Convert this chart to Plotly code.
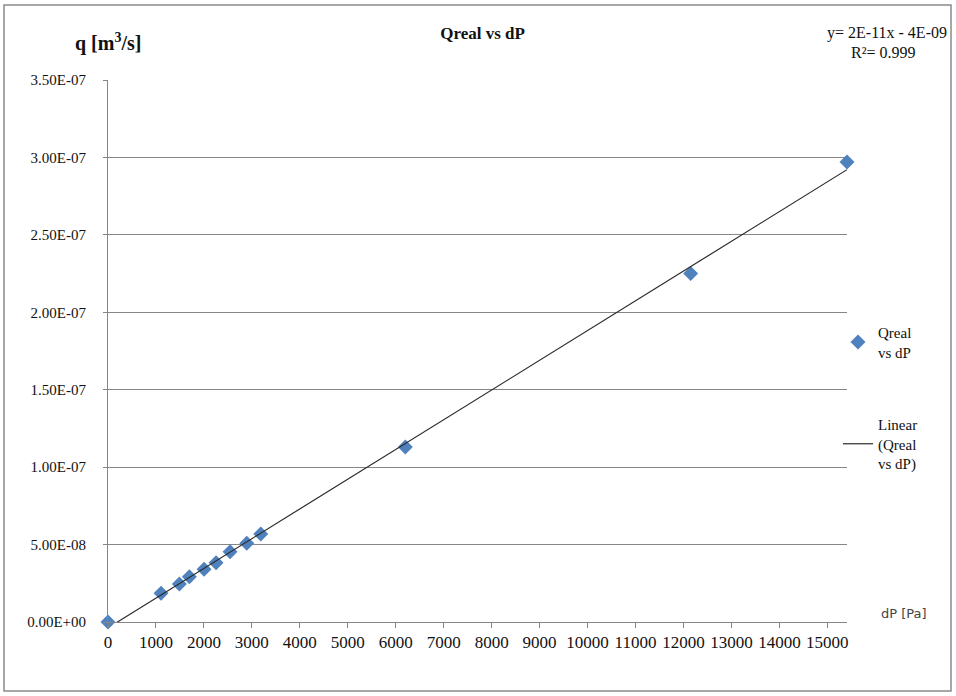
import numpy as np
import plotly.graph_objects as go

# Data
dp_pa = [0, 1106, 1488, 1697, 2003, 2253, 2545, 2894, 3186, 6200, 12150, 15410]
q_m3s = [0.0, 1.85e-08, 2.45e-08, 2.92e-08, 3.40e-08, 3.83e-08, 4.54e-08,
         5.08e-08, 5.68e-08, 1.13e-07, 2.25e-07, 2.97e-07]

x_ticks = list(range(0, 16000, 1000))
y_ticks = [0, 5e-08, 1e-07, 1.5e-07, 2e-07, 2.5e-07, 3e-07, 3.5e-07]
y_ticktext = ["0.00E+00", "5.00E-08", "1.00E-07", "1.50E-07", "2.00E-07",
              "2.50E-07", "3.00E-07", "3.50E-07"]

# Linear trendline fitted to the data
slope, intercept = np.polyfit(dp_pa, q_m3s, 1)
trend_x = [0, max(dp_pa)]
trend_y = [slope * v + intercept for v in trend_x]

SERIF = "Liberation Serif, Times New Roman, serif"
W, H = 956, 696
L, R, T, B = 108, 109, 80, 74
PW, PH = W - L - R, H - T - B


def px(x):
    return (x - L) / PW


def py(y):
    return (H - B - y) / PH


fig = go.Figure()
fig.add_trace(go.Scatter(
    x=dp_pa, y=q_m3s, mode="markers", name="Qreal<br>vs dP",
    marker=dict(symbol="diamond", size=11.5, color="#4F81BD",
                line=dict(width=0)),
    legendgroup="a", cliponaxis=False,
))
fig.add_trace(go.Scatter(
    x=trend_x, y=trend_y, mode="lines", name="Linear<br>(Qreal<br>vs dP)",
    line=dict(color="#2b2b2b", width=1.2),
    legendgroup="b",
))

fig.update_layout(
    width=W, height=H,
    margin=dict(l=L, r=R, t=T, b=B),
    paper_bgcolor="white", plot_bgcolor="white",
    font=dict(family=SERIF, size=15, color="#111"),
    title=dict(text="<b>Qreal vs dP</b>", x=px(481), xanchor="center",
               y=1 - 33 / H, yanchor="middle",
               font=dict(family=SERIF, size=17, color="#111")),
    showlegend=True,
    legend=dict(x=px(838), xanchor="left", y=py(316), yanchor="top",
                bgcolor="rgba(0,0,0,0)", tracegroupgap=50,
                itemwidth=30,
                font=dict(family=SERIF, size=15, color="#111")),
    xaxis=dict(range=[0, 15410], tickvals=x_ticks,
               ticktext=[str(v) for v in x_ticks],
               showgrid=False, zeroline=False,
               showline=True, linecolor="#868686", linewidth=1,
               ticks="outside", ticklen=5, tickcolor="#868686",
               tickfont=dict(family=SERIF, size=17, color="#111")),
    yaxis=dict(range=[0, 3.5e-07], tickvals=y_ticks, ticktext=y_ticktext,
               showgrid=True, gridcolor="#868686", gridwidth=1,
               zeroline=False,
               showline=True, linecolor="#868686", linewidth=1,
               ticks="outside", ticklen=4, tickcolor="#868686",
               ticklabelstandoff=14,
               tickfont=dict(family=SERIF, size=15, color="#111")),
    shapes=[dict(type="rect", xref="paper", yref="paper",
                 x0=px(4), x1=px(951), y0=py(691), y1=py(5),
                 line=dict(color="#8a8a8a", width=1.5), layer="below")],
    annotations=[
        dict(text="<b>q [m<sup>3</sup>/s]</b>", xref="paper", yref="paper",
             x=px(108), y=py(43), xanchor="center", yanchor="middle",
             showarrow=False, font=dict(family=SERIF, size=20, color="#111")),
        dict(text="y= 2E-11x - 4E-09", xref="paper", yref="paper",
             x=px(949), y=py(33), xanchor="right", yanchor="middle",
             showarrow=False, font=dict(family=SERIF, size=16, color="#111")),
        dict(text="R²= 0.999", xref="paper", yref="paper",
             x=px(883), y=py(53), xanchor="center", yanchor="middle",
             showarrow=False, font=dict(family=SERIF, size=16, color="#111")),
        dict(text="dP [Pa]", xref="paper", yref="paper",
             x=px(904), y=py(613), xanchor="center", yanchor="middle",
             showarrow=False, font=dict(family="DejaVu Sans, Tahoma, sans-serif",
                                        size=13, color="#444")),
    ],
)

fig.write_html("out.html", config={"displayModeBar": False},
               post_script="document.body.style.margin='0px';")
